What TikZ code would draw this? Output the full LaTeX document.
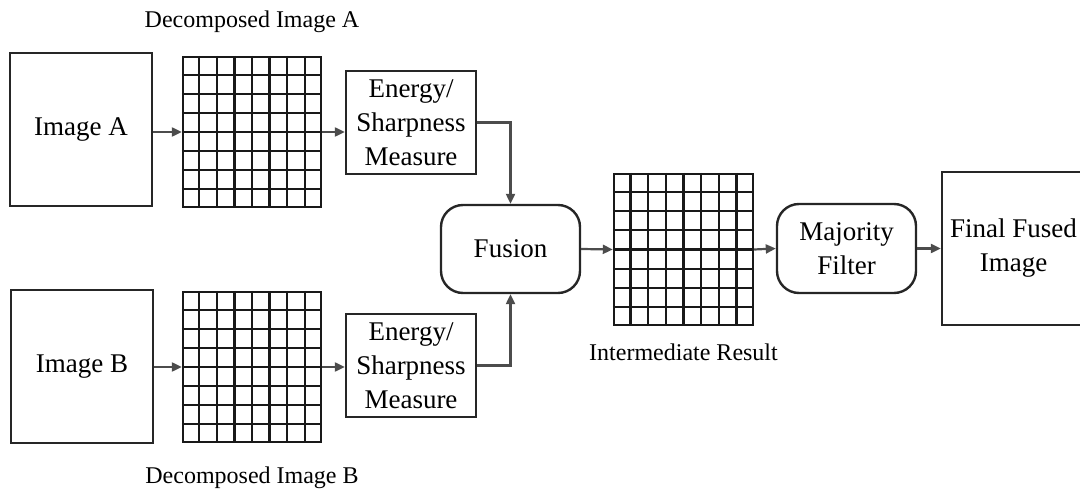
\documentclass[tikz,border=0pt]{standalone}
\usepackage{fontspec}
\setmainfont{Liberation Serif}
\usetikzlibrary{arrows.meta,calc}
\begin{document}
\begin{tikzpicture}[x=1pt,y=-1pt,
  box/.style={draw=black!85, line width=2.4pt, inner sep=0pt, align=center, font=\fontsize{27}{34}\selectfont},
  rbox/.style={box, rounded corners=22pt},
  gridbox/.style={draw=black!90, line width=2.4pt, inner sep=0pt},
  gline/.style={draw=black!90, line width=2.2pt},
  conn/.style={draw=black!70, line width=2.2pt, -{Triangle[length=10pt,width=9pt]}},
  lbl/.style={font=\fontsize{24}{28}\selectfont}]
\useasboundingbox (0,0) rectangle (1080,497);

% inputs
\node[box, minimum width=142pt, minimum height=153pt] (imgA) at (81,129.5) {Image A};
\node[box, minimum width=142pt, minimum height=153pt] (imgB) at (82,366.5) {Image B};

% grids
\node[gridbox, minimum width=138pt, minimum height=150pt] (gA) at (252,132) {};
\node[gridbox, minimum width=138pt, minimum height=150pt] (gB) at (252,367) {};
\node[gridbox, minimum width=139pt, minimum height=151pt] (gI) at (683.5,249.5) {};
\foreach \g in {gA,gB,gI} {
  \foreach \i in {1,...,7} {
    \draw[gline] ($(\g.north west)!{\i/8}!(\g.north east)$) -- ($(\g.south west)!{\i/8}!(\g.south east)$);
    \draw[gline] ($(\g.north west)!{\i/8}!(\g.south west)$) -- ($(\g.north east)!{\i/8}!(\g.south east)$);
  }
}

% measures
\node[box, minimum width=130pt, minimum height=103pt] (eA) at (411,122.5) {Energy/\\Sharpness\\Measure};
\node[box, minimum width=130pt, minimum height=103pt] (eB) at (411,365.5) {Energy/\\Sharpness\\Measure};

% fusion, filter, final
\node[rbox, minimum width=139pt, minimum height=88pt] (fus) at (510.5,249) {Fusion};
\node[rbox, minimum width=139pt, minimum height=89pt] (maj) at (846.5,248.5) {Majority\\Filter};
\node[box, minimum width=143pt, minimum height=153pt] (fin) at (1013.5,248.5) {Final Fused\\Image};

% labels
\node[lbl] (decA) at (252,22) {Decomposed Image A};
\node[lbl] (decB) at (252,478) {Decomposed Image B};
\node[lbl] (interl) at (683.5,352) {Intermediate Result};

% connectors
\draw[conn] (imgA.east |- gA.west) -- (gA.west);
\draw[conn] (imgB.east |- gB.west) -- (gB.west);
\draw[conn] (gA.east) -- (gA.east -| eA.west);
\draw[conn] (gB.east) -- (gB.east -| eB.west);
\draw[conn] (eA.east) -| (fus.north);
\draw[conn] (eB.east) -| (fus.south);
\draw[conn] (fus.east) -- (gI.west);
\draw[conn] (gI.east) -- (maj.west);
\draw[conn] (maj.east) -- (fin.west);
\end{tikzpicture}
\end{document}
